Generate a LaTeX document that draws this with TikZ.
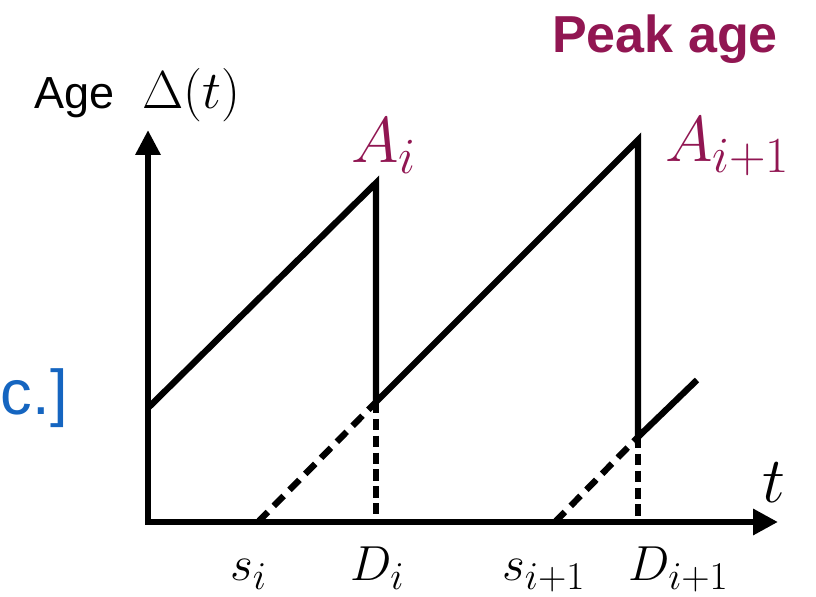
\RequirePackage{fix-cm}
\documentclass[tikz,border=0pt]{standalone}
\usepackage[no-math]{fontspec}
\newfontfamily\helv{Liberation Sans}
\usetikzlibrary{arrows.meta}
\definecolor{peakred}{RGB}{145,22,82}
\definecolor{citeblue}{RGB}{21,101,192}
\DeclareMathSizes{35}{35}{28}{21}
\DeclareMathSizes{46}{46}{36}{27}

\begin{document}
\begin{tikzpicture}[
    axis/.style={line width=4.5pt, {Triangle[length=0.625cm,width=0.6cm]}-{Triangle[length=0.625cm,width=0.625cm]}},
    saw/.style={line width=4.5pt, line join=miter},
    proj/.style={line width=4.5pt, dash pattern=on 8pt off 4pt},
    slope/.style={line width=4.5pt, dash pattern=on 10pt off 6pt},
    lbl/.style={anchor=base west, inner sep=0pt},
    mathlbl/.style={lbl, font=\fontsize{35}{40}\selectfont},
    peaklbl/.style={lbl, text=peakred, font=\fontsize{46}{52}\selectfont}
]
\useasboundingbox (0,0) rectangle (20.4,14.925);

% Axes
\coordinate (o) at (3.7,1.875);
\coordinate (ytop) at (3.7,11.675);
\coordinate (xend) at (19.45,1.875);
\draw[axis] (ytop) -- (o) -- (xend);

% Sawtooth of the age
\coordinate (p0) at (3.7,4.725);
\coordinate (p1) at (9.4,10.35);
\coordinate (p2) at (9.4,4.875);
\coordinate (p3) at (15.95,11.425);
\coordinate (p4) at (15.95,4.0);
\coordinate (p5) at (17.425,5.425);
\draw[saw] (p0) -- (p1) -- (p2) -- (p3) -- (p4) -- (p5);

% Generation and delivery times
\coordinate (si) at (6.45,1.875);
\coordinate (sj) at (13.875,1.875);
\coordinate (di) at (p2 |- o);
\coordinate (dj) at (p4 |- o);
\draw[slope] (si) -- (p2);
\draw[slope] (sj) -- (p4);
\draw[proj] (p2) -- (di);
\draw[proj] (p4) -- (dj);

% Labels
\node[lbl, font=\helv\fontsize{32}{38}\selectfont] (agetxt) at (0.85,12.2) {Age};
\node[lbl, font=\fontsize{38}{44}\selectfont] (agemath) at (3.55,12.2) {$\Delta(t)$};
\node[lbl, text=peakred, font=\helv\bfseries\fontsize{37}{44}\selectfont] (peak) at (13.8,13.6) {Peak age};
\node[peaklbl] (ai) at (8.78,10.85) {$A_i$};
\node[peaklbl] (aj) at (16.62,10.875) {$A_{i+1}$};
\node[lbl, font=\fontsize{46}{52}\selectfont] (tlbl) at (19.05,2.35) {$t$};
\node[mathlbl] (slbl) at (5.75,0.42) {$s_i$};
\node[mathlbl] (dlbl) at (8.75,0.42) {$D_i$};
\node[mathlbl] (sjlbl) at (12.55,0.42) {$s_{i+1}$};
\node[mathlbl] (djlbl) at (15.7,0.42) {$D_{i+1}$};
\node[anchor=base east, inner sep=0pt, text=citeblue, font=\helv\fontsize{45}{52}\selectfont] (cite) at (1.7,4.55) {c.]};
\end{tikzpicture}
\end{document}
